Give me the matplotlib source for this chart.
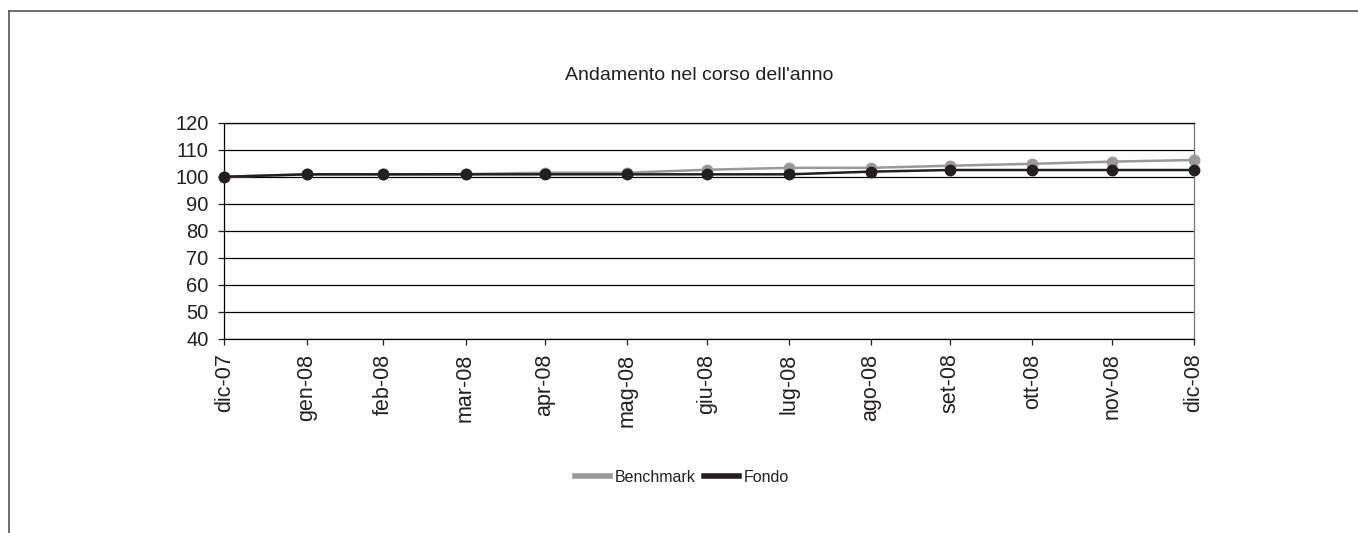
import datetime as dt
import matplotlib
matplotlib.use("Agg")
import matplotlib.pyplot as plt
import matplotlib.dates as mdates
from matplotlib.lines import Line2D

plt.rcParams['font.family'] = ['Liberation Sans', 'DejaVu Sans']

# data (month-end dates)
dates = [dt.date(2007, 12, 31), dt.date(2008, 1, 31), dt.date(2008, 2, 29),
         dt.date(2008, 3, 31), dt.date(2008, 4, 30), dt.date(2008, 5, 31),
         dt.date(2008, 6, 30), dt.date(2008, 7, 31), dt.date(2008, 8, 31),
         dt.date(2008, 9, 30), dt.date(2008, 10, 31), dt.date(2008, 11, 30),
         dt.date(2008, 12, 31)]
labels = ['dic-07', 'gen-08', 'feb-08', 'mar-08', 'apr-08', 'mag-08', 'giu-08',
          'lug-08', 'ago-08', 'set-08', 'ott-08', 'nov-08', 'dic-08']
benchmark = [100.0, 100.9, 100.9, 101.0, 101.5, 101.5, 102.6, 103.3, 103.3,
             104.1, 104.8, 105.6, 106.2]
fondo = [100.0, 100.9, 100.9, 100.9, 100.9, 100.9, 100.9, 100.9, 101.9,
         102.5, 102.5, 102.5, 102.5]
yticks = [40, 50, 60, 70, 80, 90, 100, 110, 120]

gray = '#999999'
dark = '#231f20'

fig = plt.figure(figsize=(13.58, 5.33), dpi=100)
ax = fig.add_axes([0.1653, 0.364, 0.7139, 0.4058])

ax.plot(dates, benchmark, color=gray, lw=1.8, marker='o', ms=7.5, clip_on=False, zorder=3)
ax.plot(dates, fondo, color=dark, lw=1.8, marker='o', ms=7.5, clip_on=False, zorder=4)

ax.set_xlim(dates[0], dates[-1])
ax.set_ylim(40, 120)
ax.set_yticks(yticks)
ax.set_xticks([mdates.date2num(d) for d in dates])
ax.set_xticklabels(labels, rotation=90)
ax.tick_params(axis='both', labelsize=14.5, colors=dark, length=4.5, width=0.9)
ax.tick_params(axis='y', pad=7)
ax.tick_params(axis='x', pad=6, labelsize=15.5)
ax.yaxis.grid(True, color='black', lw=0.9)
ax.set_axisbelow(True)
for side in ['left', 'bottom', 'top']:
    ax.spines[side].set_color('black')
    ax.spines[side].set_linewidth(0.9)
ax.spines['right'].set_color('#777777')
ax.spines['right'].set_linewidth(0.9)

fig.text(699 / 1358, 1 - 75 / 533, "Andamento nel corso dell'anno", ha='center', va='center',
         fontsize=14, color=dark)

handles = [Line2D([], [], color=gray, lw=4), Line2D([], [], color=dark, lw=4)]
fig.legend(handles, ['Benchmark', 'Fondo'], loc='center', bbox_to_anchor=(682 / 1358, 1 - 477 / 533),
           ncol=2, frameon=False, fontsize=11.5, handlelength=2.2, handletextpad=0.3,
           columnspacing=0.5, labelcolor=dark)

# outer frame (left and top edges visible)
fig.add_artist(Line2D([8.5 / 1358, 8.5 / 1358], [0, 1 - 11 / 533], color='#555555', lw=1.2))
fig.add_artist(Line2D([8.5 / 1358, 1], [1 - 11 / 533, 1 - 11 / 533], color='#555555', lw=1.2))

fig.savefig('out.png', dpi=100)
